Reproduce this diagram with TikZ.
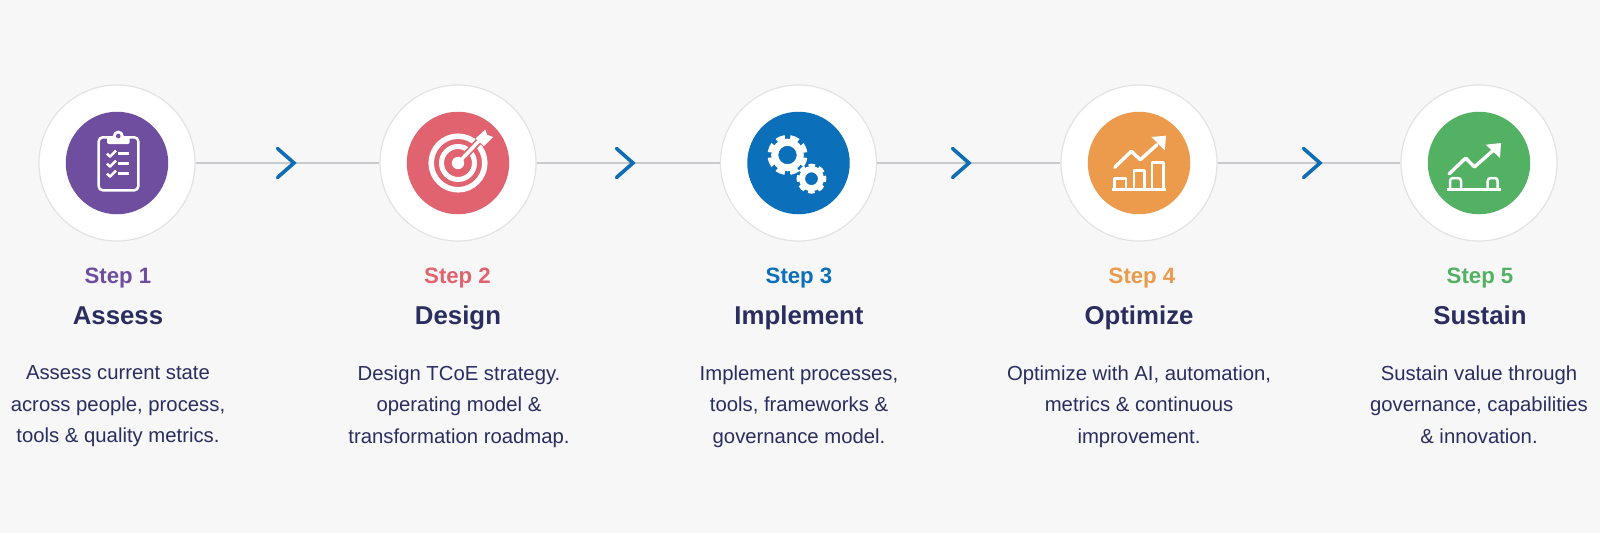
\documentclass[tikz,border=0pt]{standalone}
\usepackage{fontspec}
\setmainfont{Liberation Sans}
\definecolor{pagebg}{HTML}{F7F7F8}
\definecolor{ringgray}{HTML}{E2E3E4}
\definecolor{linegray}{HTML}{C8CACD}
\definecolor{navy}{HTML}{2A2E5F}
\definecolor{chevblue}{HTML}{0F6DB5}
\definecolor{stepA}{HTML}{6F4E9F}
\definecolor{stepB}{HTML}{E0636F}
\definecolor{stepC}{HTML}{0B6FBA}
\definecolor{stepD}{HTML}{EC9A4B}
\definecolor{stepE}{HTML}{52B162}
\tikzset{
  ring/.style={circle,fill=white,draw=ringgray,line width=1.2pt,minimum size=156pt,inner sep=0pt},
  disc/.style={circle,fill=#1,minimum size=102.5pt,inner sep=0pt},
  link/.style={draw=linegray,line width=1.6pt},
  chevron/.style={draw=chevblue,line width=3.6pt,line cap=round,line join=miter},
  steplabel/.style={anchor=base,text=#1,font=\fontsize{22.2}{26}\selectfont\bfseries},
  titlelabel/.style={anchor=base,text=navy,font=\fontsize{25.8}{30}\selectfont\bfseries},
  desclabel/.style={anchor=north,inner sep=0pt,align=center,text=navy,font=\fontsize{20.3}{31.5}\selectfont},
  iconline/.style={draw=white,line width=2.5pt,line join=round},
  iconarrow/.style={draw=white,line width=3.4pt,line cap=round,line join=round}
}
\begin{document}
\begin{tikzpicture}[x=1pt,y=-1pt]
\useasboundingbox (0,0) rectangle (1600,533);
\fill[pagebg] (0,0) rectangle (1600,533);
% circles
\node[ring] (c1) at (117,163) {};
\node[ring] (c2) at (458,163) {};
\node[ring] (c3) at (798.5,163) {};
\node[ring] (c4) at (1139,163) {};
\node[ring] (c5) at (1479,163) {};
\node[disc=stepA] (d1) at (c1) {};
\node[disc=stepB] (d2) at (c2) {};
\node[disc=stepC] (d3) at (c3) {};
\node[disc=stepD] (d4) at (c4) {};
\node[disc=stepE] (d5) at (c5) {};
% connectors
\draw[link] (c1) -- (c2);
\draw[link] (c2) -- (c3);
\draw[link] (c3) -- (c4);
\draw[link] (c4) -- (c5);
\coordinate (a1) at (294,163);
\coordinate (a2) at (633,163);
\coordinate (a3) at (969,163);
\coordinate (a4) at (1320,163);
\draw[chevron] (a1) ++(-16.5,-14.5) -- ++(16.5,14.5) -- ++(-16.5,14.5);
\draw[chevron] (a2) ++(-16.5,-14.5) -- ++(16.5,14.5) -- ++(-16.5,14.5);
\draw[chevron] (a3) ++(-16.5,-14.5) -- ++(16.5,14.5) -- ++(-16.5,14.5);
\draw[chevron] (a4) ++(-16.5,-14.5) -- ++(16.5,14.5) -- ++(-16.5,14.5);
% clipboard
\begin{scope}[shift={(c1)}]
\draw[iconline,rounded corners=4pt] (-18.3,-25.7) rectangle (21.3,27.3);
\fill[white,rounded corners=2pt] (-10,-26.5) rectangle (12.7,-19);
\fill[white] (1.3,-27) circle (5.5);
\fill[stepA] (1.3,-27) circle (2.3);
\draw[iconline] (-10,-9.3) -- (-7,-6.3) -- (-1,-12.3);
\draw[iconline] (-10,0.7) -- (-7,3.7) -- (-1,-2.3);
\draw[iconline] (-10,10.7) -- (-7,13.7) -- (-1,7.7);
\draw[iconline] (1,-9.3) -- (11.7,-9.3);
\draw[iconline] (1,0.7) -- (11.7,0.7);
\draw[iconline] (1,10.7) -- (11.7,10.7);
\end{scope}
% target
\begin{scope}[shift={(c2)}]
\draw[white,line width=5.5pt] (0,0) circle (26.8);
\draw[white,line width=5pt] (0,0) circle (16.5);
\draw[stepB,line width=7pt] (0,0) -- (24,-25);
\fill[white] (0,0) circle (6.2);
\draw[white,line width=3.5pt] (0,0) -- (22,-23);
\fill[white] (17.5,-24.5) -- (27.3,-33.3) -- (29,-28.3) -- (35,-26) -- (26,-17) -- cycle;
\end{scope}
% gears
\begin{scope}[shift={(c3)}]
\draw[white,line width=5pt,dash pattern=on 8.5 off 5.24,dash phase=11.12] (-11,-8) circle (17.5);
\draw[white,line width=7pt] (-11,-8) circle (12.8);
\draw[white,line width=4pt,dash pattern=on 6.4 off 3.8,dash phase=3.2] (13,15.7) circle (13);
\draw[white,line width=6pt] (13,15.7) circle (9.5);
\end{scope}
% growth chart
\begin{scope}[shift={(c4)}]
\draw[iconline] (-27,26.7) -- (27.3,26.7);
\draw[iconline] (-24.3,26.7) rectangle (-13,15.7);
\draw[iconline] (-5,26.7) rectangle (5.7,7.7);
\draw[iconline] (13,26.7) rectangle (24.7,-0.7);
\draw[iconarrow] (-24.3,4.3) -- (-7.7,-11.7) -- (1.3,-3.3) -- (18,-18.3);
\fill[white] (27,-27.3) -- (12.3,-26) -- (25.7,-12.7) -- cycle;
\end{scope}
% sustain chart
\begin{scope}[shift={(c5)}]
\draw[iconline] (-32.3,26.7) -- (22,26.7);
\draw[iconline,rounded corners=3pt] (-29,26.7) -- (-29,15) -- (-18,15) -- (-18,26.7);
\draw[iconline,rounded corners=3pt] (8.7,26.7) -- (8.7,15) -- (18.7,15) -- (18.7,26.7);
\draw[iconarrow] (-30,11) -- (-13.3,-5) -- (-4.7,4) -- (14.3,-12.7);
\fill[white] (22,-20) -- (6.7,-18.3) -- (21,-5) -- cycle;
\end{scope}
% labels
\node[steplabel=stepA] (s1) at (118,283) {Step 1};
\node[steplabel=stepB] (s2) at (457.5,283) {Step 2};
\node[steplabel=stepC] (s3) at (799,283) {Step 3};
\node[steplabel=stepD] (s4) at (1142,283) {Step 4};
\node[steplabel=stepE] (s5) at (1480,283) {Step 5};
\node[titlelabel] (t1) at (118,324) {Assess};
\node[titlelabel] (t2) at (458,324) {Design};
\node[titlelabel] (t3) at (799,324) {Implement};
\node[titlelabel] (t4) at (1139,324) {Optimize};
\node[titlelabel] (t5) at (1480,324) {Sustain};
\node[desclabel] (b1) at (118,365.5) {Assess current state\\across people, process,\\tools \& quality metrics.};
\node[desclabel] (b2) at (459,365.5) {Design TCoE strategy.\\operating model \&\\transformation roadmap.};
\node[desclabel] (b3) at (799,365.5) {Implement processes,\\tools, frameworks \&\\governance model.};
\node[desclabel] (b4) at (1139,365.5) {Optimize with AI, automation,\\metrics \& continuous\\improvement.};
\node[desclabel] (b5) at (1479,365.5) {Sustain value through\\governance, capabilities\\\& innovation.};
\end{tikzpicture}
\end{document}
